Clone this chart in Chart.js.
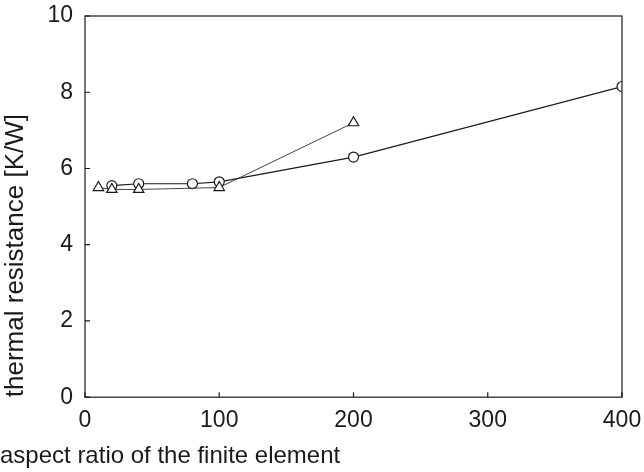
<!DOCTYPE html>
<html>
<head>
<meta charset="utf-8">
<script src="https://cdn.jsdelivr.net/npm/chart.js@4/dist/chart.umd.min.js"></script>
<style>
  body { margin: 0; background: #fff; }
  #wrap { width: 644px; height: 472px; }
</style>
</head>
<body>
<div id="wrap"><canvas id="chart"></canvas></div>
<script>
// values
const triangleX = [10, 20, 40, 100, 200];
const triangleY = [5.5, 5.45, 5.45, 5.5, 7.2];
const circleX = [20, 40, 80, 100, 200, 400];
const circleY = [5.55, 5.6, 5.6, 5.65, 6.3, 8.15];
const xTicks = [0, 100, 200, 300, 400];
const yTicks = [0, 2, 4, 6, 8, 10];

const ink = '#1a1a1a';
const fontFamily = '"Liberation Sans", Arial, sans-serif';

function toPoints(xs, ys) {
    return xs.map((x, i) => ({ x: x, y: ys[i] }));
}

// frame round the plot and the short inward tick marks
const framePlugin = {
    id: 'frame',
    afterDraw(chart) {
        const ctx = chart.ctx;
        const a = chart.chartArea;
        const xs = chart.scales.x;
        const ys = chart.scales.y;
        ctx.save();
        ctx.strokeStyle = ink;
        ctx.lineWidth = 1.2;
        ctx.strokeRect(a.left, a.top, a.right - a.left, a.bottom - a.top);
        ctx.beginPath();
        yTicks.forEach(v => {
            const py = ys.getPixelForValue(v);
            ctx.moveTo(a.left, py);
            ctx.lineTo(a.left + 5, py);
        });
        xTicks.forEach(v => {
            const px = xs.getPixelForValue(v);
            ctx.moveTo(px, a.bottom);
            ctx.lineTo(px, a.bottom - 5);
        });
        ctx.stroke();
        ctx.restore();
    }
};

const ctx = document.getElementById('chart').getContext('2d');
new Chart(ctx, {
    type: 'scatter',
    data: {
        datasets: [{
            label: 'triangles',
            data: toPoints(triangleX, triangleY),
            showLine: true,
            borderColor: '#444',
            borderWidth: 1,
            backgroundColor: '#fff',
            pointStyle: 'triangle',
            pointRadius: 6,
            pointBorderColor: ink,
            pointBorderWidth: 1.2
        }, {
            label: 'circles',
            data: toPoints(circleX, circleY),
            showLine: true,
            borderColor: ink,
            borderWidth: 1.2,
            backgroundColor: '#fff',
            pointStyle: 'circle',
            pointRadius: 5,
            pointBorderColor: ink,
            pointBorderWidth: 1.2
        }]
    },
    options: {
        responsive: true,
        maintainAspectRatio: false,
        animation: false,
        layout: { padding: { top: 16, right: 22, left: 0, bottom: 0 } },
        plugins: {
            legend: { display: false },
            tooltip: { enabled: false },
            title: {
                display: true,
                position: 'bottom',
                align: 'start',
                text: 'aspect ratio of the finite element',
                color: ink,
                padding: { top: 0, bottom: 1 },
                font: { family: fontFamily, size: 24, weight: 'normal' }
            }
        },
        scales: {
            x: {
                type: 'linear',
                min: 0,
                max: 400,
                afterFit(scale) {
                    scale.height = 45;
                    scale.paddingLeft = 0;
                    scale.paddingRight = 0;
                },
                afterBuildTicks(scale) { scale.ticks = xTicks.map(v => ({ value: v })); },
                border: { display: false },
                grid: { display: false, drawTicks: false },
                ticks: {
                    padding: 10,
                    color: ink,
                    font: { family: fontFamily, size: 23 }
                }
            },
            y: {
                type: 'linear',
                min: 0,
                max: 10,
                afterFit(scale) {
                    scale.width = 85;
                    scale.paddingTop = 0;
                    scale.paddingBottom = 0;
                },
                afterBuildTicks(scale) { scale.ticks = yTicks.map(v => ({ value: v })); },
                border: { display: false },
                grid: { display: false, drawTicks: false },
                ticks: {
                    padding: 12,
                    color: ink,
                    font: { family: fontFamily, size: 23 }
                },
                title: {
                    display: true,
                    text: 'thermal resistance [K/W]',
                    align: 'start',
                    color: ink,
                    padding: { top: 0, bottom: 0 },
                    font: { family: fontFamily, size: 26 }
                }
            }
        }
    },
    plugins: [framePlugin]
});
</script>
</body>
</html>
